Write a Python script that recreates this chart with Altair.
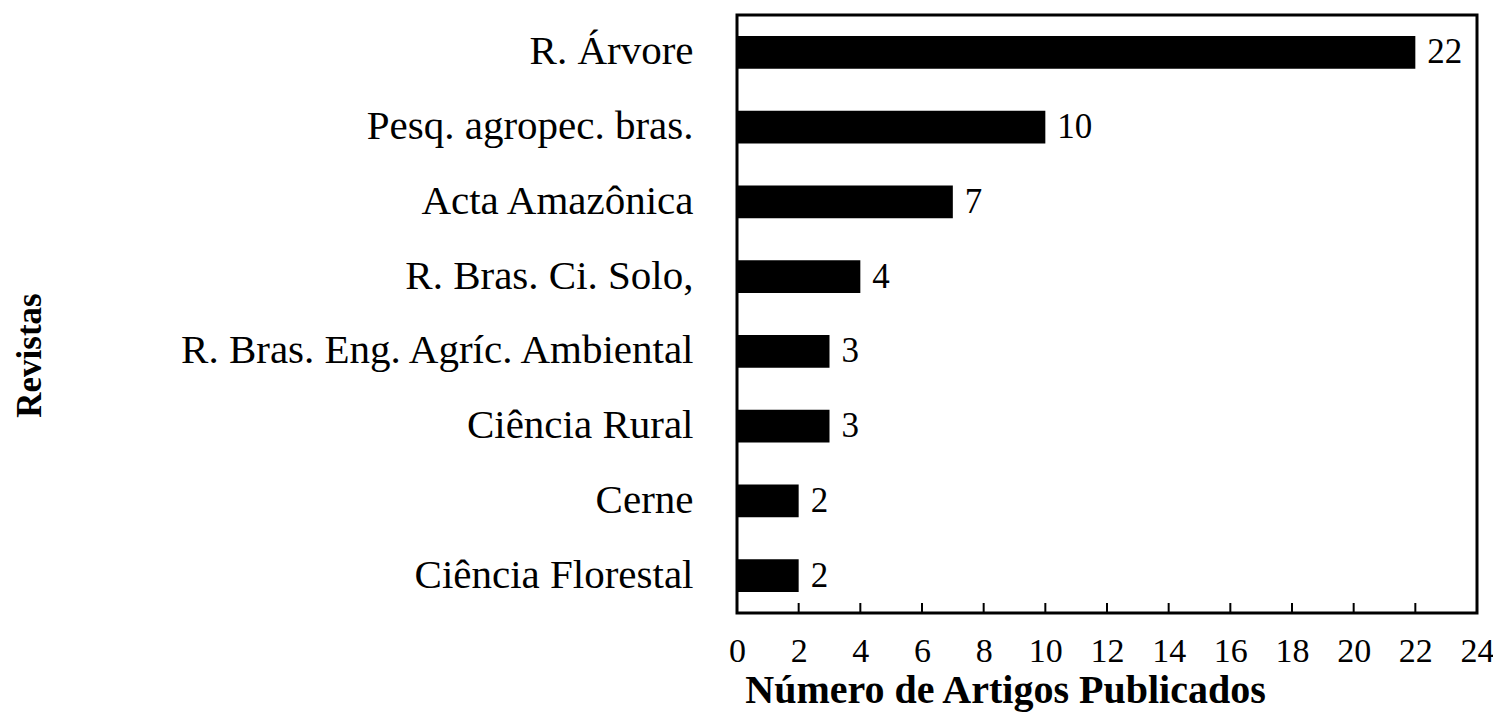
import altair as alt
import pandas as pd

revistas = ["R. Árvore", "Pesq. agropec. bras.", "Acta Amazônica\u00a0", "R. Bras. Ci. Solo,\u00a0\u00a0",
            "R. Bras. Eng. Agríc. Ambiental", "Ciência Rural", "Cerne", "Ciência Florestal"]
artigos = [22, 10, 7, 4, 3, 3, 2, 2]
x_ticks = [0, 2, 4, 6, 8, 10, 12, 14, 16, 18, 20, 22, 24]

df = pd.DataFrame({"revista": revistas, "artigos": artigos})
ticks_df = pd.DataFrame({"t": x_ticks})

FONT = "Liberation Serif"
W, H = 740, 598
TICK_LEN = 10

y_enc = alt.Y("revista:N", sort=revistas,
              scale=alt.Scale(paddingInner=0.56, paddingOuter=0.28),
              axis=alt.Axis(title="Revistas", ticks=False, domain=False,
                            labelFont=FONT, labelFontSize=41, labelColor="black",
                            labelPadding=44, labelLimit=800,
                            titleFont=FONT, titleFontSize=35, titleFontWeight="bold",
                            titleColor="black", titleAngle=270, titleX=-708, titleY=340,
                            titleAlign="center", titleBaseline="middle"))

x_enc = alt.X("artigos:Q", scale=alt.Scale(domain=[0, 24], nice=False, zero=True),
              axis=alt.Axis(title="Número de Artigos Publicados", values=x_ticks,
                            ticks=False, domain=False, grid=False,
                            labelFont=FONT, labelFontSize=34, labelColor="black",
                            labelPadding=21, labelFlush=False,
                            titleFont=FONT, titleFontSize=40, titleFontWeight="bold",
                            titleColor="black", titleX=268, titleY=77,
                            titleAlign="center", titleBaseline="middle"))

bars = alt.Chart(df).mark_bar(color="black").encode(x=x_enc, y=y_enc)

labels = alt.Chart(df).mark_text(align="left", baseline="middle", dx=12,
                                 font=FONT, fontSize=35, color="black").encode(
    x="artigos:Q", y=alt.Y("revista:N", sort=revistas), text="artigos:Q")

ticks = alt.Chart(ticks_df).mark_rule(color="black", strokeWidth=2).encode(
    x="t:Q", y=alt.value(H - TICK_LEN), y2=alt.value(H))

chart = (bars + labels + ticks).properties(
    width=W, height=H,
    background="white",
    autosize=alt.AutoSizeParams(type="none"),
    padding={"left": 729, "top": 7, "right": 16, "bottom": 100},
).configure_view(stroke="black", strokeWidth=3)

chart.save("out.html", embed_options={"renderer": "svg", "actions": False})
